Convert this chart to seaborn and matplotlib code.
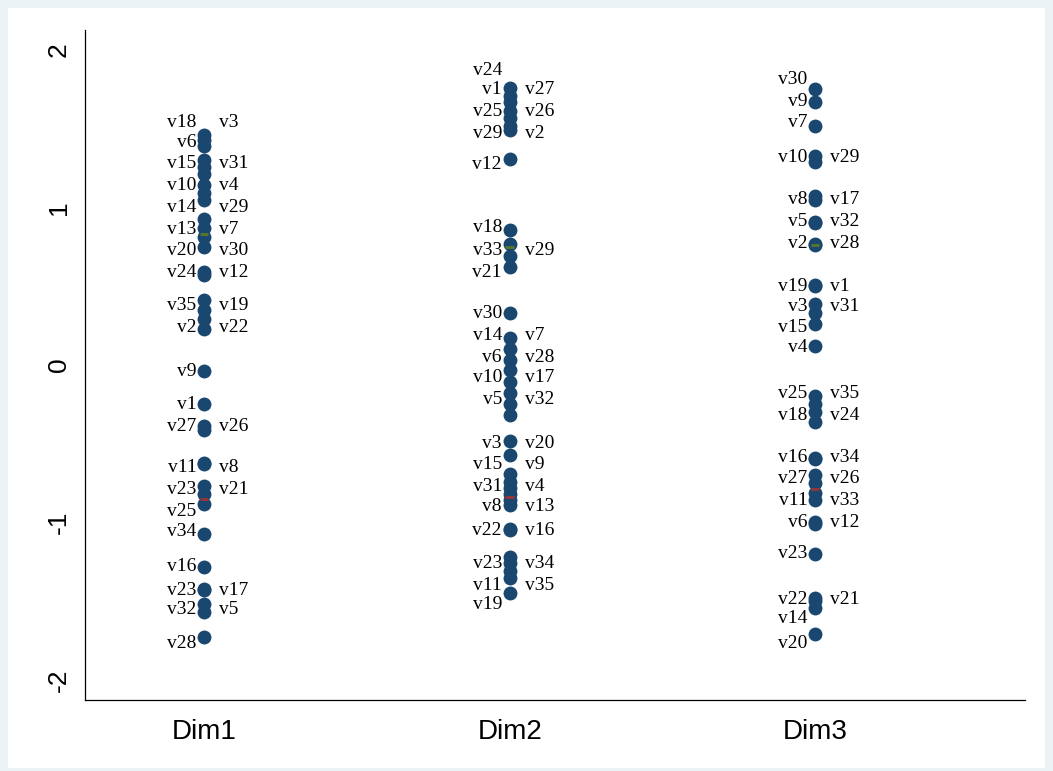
import numpy as np
import pandas as pd
import matplotlib.pyplot as plt
import seaborn as sns
from matplotlib.patches import Rectangle

# Dimensions shown on the x axis
dims = ['Dim1', 'Dim2', 'Dim3']

# Dim1: variable names, scores and label rows (top to bottom)
dim1_names = ['v18', 'v3', 'v6', 'v15', 'v31', 'v10', 'v4', 'v14', 'v29', 'v13', 'v7', 'v20', 'v30',
              'v24', 'v12', 'v35', 'v19', 'v2', 'v22', 'v9', 'v1', 'v27', 'v26', 'v11', 'v8',
              'v23', 'v21', 'v25', 'v34', 'v16', 'v23', 'v17', 'v32', 'v5', 'v28']
dim1_values = [1.46, 1.43, 1.39, 1.30, 1.26, 1.21, 1.14, 1.09, 1.05, 0.93, 0.87, 0.81, 0.75,
               0.59, 0.57, 0.41, 0.35, 0.29, 0.23, -0.04, -0.25, -0.39, -0.41, -0.62, -0.63,
               -0.77, -0.82, -0.88, -1.07, -1.28, -1.42, -1.43, -1.52, -1.57, -1.73]
dim1_label_y = [1.54, 1.54, 1.41, 1.28, 1.28, 1.14, 1.14, 1.00, 1.00, 0.86, 0.86, 0.73, 0.73,
                0.59, 0.59, 0.38, 0.38, 0.24, 0.24, -0.04, -0.25, -0.39, -0.39, -0.65, -0.65,
                -0.79, -0.79, -0.93, -1.06, -1.28, -1.43, -1.43, -1.55, -1.55, -1.77]

# Dim2
dim2_names = ['v24', 'v1', 'v27', 'v25', 'v26', 'v29', 'v2', 'v12', 'v18', 'v33', 'v29', 'v21',
              'v30', 'v14', 'v7', 'v6', 'v28', 'v10', 'v17', 'v5', 'v32', 'v3', 'v20', 'v15',
              'v9', 'v31', 'v4', 'v8', 'v13', 'v22', 'v16', 'v23', 'v34', 'v11', 'v35', 'v19']
dim2_values = [1.76, 1.71, 1.67, 1.61, 1.57, 1.52, 1.49, 1.31, 0.86, 0.77, 0.69, 0.62,
               0.33, 0.17, 0.10, 0.03, -0.03, -0.11, -0.18, -0.25, -0.32, -0.48, -0.57, -0.69,
               -0.74, -0.78, -0.82, -0.86, -0.89, -1.04, -1.05, -1.22, -1.26, -1.31, -1.35, -1.45]
dim2_label_y = [1.87, 1.75, 1.75, 1.61, 1.61, 1.47, 1.47, 1.27, 0.87, 0.73, 0.73, 0.59,
                0.33, 0.19, 0.19, 0.05, 0.05, -0.08, -0.08, -0.22, -0.22, -0.50, -0.50, -0.63,
                -0.63, -0.77, -0.77, -0.90, -0.90, -1.05, -1.05, -1.26, -1.26, -1.40, -1.40, -1.52]

# Dim3
dim3_names = ['v30', 'v9', 'v7', 'v10', 'v29', 'v8', 'v17', 'v5', 'v32', 'v2', 'v28', 'v19',
              'v1', 'v3', 'v31', 'v15', 'v4', 'v25', 'v35', 'v18', 'v24', 'v16', 'v34', 'v27',
              'v26', 'v11', 'v33', 'v6', 'v12', 'v23', 'v22', 'v21', 'v14', 'v20']
dim3_values = [1.75, 1.67, 1.52, 1.33, 1.29, 1.07, 1.05, 0.91, 0.90, 0.77, 0.76, 0.51,
               0.50, 0.39, 0.33, 0.26, 0.12, -0.20, -0.25, -0.30, -0.36, -0.59, -0.60, -0.70,
               -0.75, -0.81, -0.86, -1.00, -1.01, -1.20, -1.48, -1.50, -1.54, -1.71]
dim3_label_y = [1.81, 1.67, 1.54, 1.32, 1.32, 1.05, 1.05, 0.91, 0.91, 0.77, 0.77, 0.50,
                0.50, 0.37, 0.37, 0.24, 0.11, -0.18, -0.18, -0.32, -0.32, -0.59, -0.59, -0.72,
                -0.72, -0.86, -0.86, -1.00, -1.00, -1.20, -1.49, -1.49, -1.61, -1.77]

# small centre marks (upper group / lower group)
upper_marks = [0.83, 0.75, 0.76]
lower_marks = [-0.85, -0.84, -0.79]

rows = []
for d, names, vals, laby in zip(dims,
                                [dim1_names, dim2_names, dim3_names],
                                [dim1_values, dim2_values, dim3_values],
                                [dim1_label_y, dim2_label_y, dim3_label_y]):
    for n, v, ly in zip(names, vals, laby):
        rows.append({'dim': d, 'name': n, 'value': v, 'label_y': ly})
df = pd.DataFrame(rows)

marks = pd.DataFrame({'dim': dims * 2,
                      'value': upper_marks + lower_marks,
                      'group': ['up'] * 3 + ['low'] * 3})

sns.set_style('white')
plt.rcParams['axes.unicode_minus'] = False

W, H = 1053, 771
fig = plt.figure(figsize=(W / 100, H / 100), dpi=100, facecolor='#EAF2F3')
fig.patches.append(Rectangle((8 / W, 3 / H), 1037 / W, 760 / H, transform=fig.transFigure,
                             facecolor='white', edgecolor='none', zorder=-10))
ax = fig.add_axes([85 / W, 1 - 700 / H, 940 / W, 670 / H])
ax.set_facecolor('white')

navy = '#1A476F'
sns.stripplot(data=df, x='dim', y='value', order=dims, jitter=False, color=navy,
              size=10, linewidth=0, ax=ax, zorder=3)
sns.stripplot(data=marks, x='dim', y='value', hue='group', order=dims,
              palette={'up': '#55752F', 'low': '#90353B'}, jitter=False, marker='_',
              size=6, linewidth=2.2, legend=False, ax=ax, zorder=4)

# variable labels: first label on a row goes left of the dots, second goes right
for i, d in enumerate(dims):
    sub = df[df['dim'] == d]
    seen = set()
    for _, r in sub.iterrows():
        if r['label_y'] in seen:
            ax.annotate(r['name'], (i, r['label_y']), xytext=(11, 0), textcoords='offset points',
                        ha='left', va='center', fontsize=14, family='Liberation Serif', color='black')
        else:
            ax.annotate(r['name'], (i, r['label_y']), xytext=(-5.5, 0), textcoords='offset points',
                        ha='right', va='center', fontsize=14, family='Liberation Serif', color='black')
            seen.add(r['label_y'])

ax.set_xlim(-0.39, 2.687)
ax.set_ylim(-2.127, 2.127)
ax.set_yticks([-2, -1, 0, 1, 2])
ax.set_yticklabels(['-2', '-1', '0', '1', '2'], rotation=90, va='center',
                   fontsize=19, family='Liberation Sans', color='black')
ax.set_xticks([0, 1, 2])
ax.set_xticklabels(dims, fontsize=20, family='Liberation Sans', color='black')
ax.set_xlabel('')
ax.set_ylabel('')

for s in ['top', 'right']:
    ax.spines[s].set_visible(False)
for s in ['left', 'bottom']:
    ax.spines[s].set_color('black')
    ax.spines[s].set_linewidth(0.9)
ax.tick_params(axis='both', direction='out', length=6, width=0.9, color='black')
ax.tick_params(axis='y', pad=4)
ax.tick_params(axis='x', pad=8)

plt.savefig('out.png', dpi=100, facecolor=fig.get_facecolor())
